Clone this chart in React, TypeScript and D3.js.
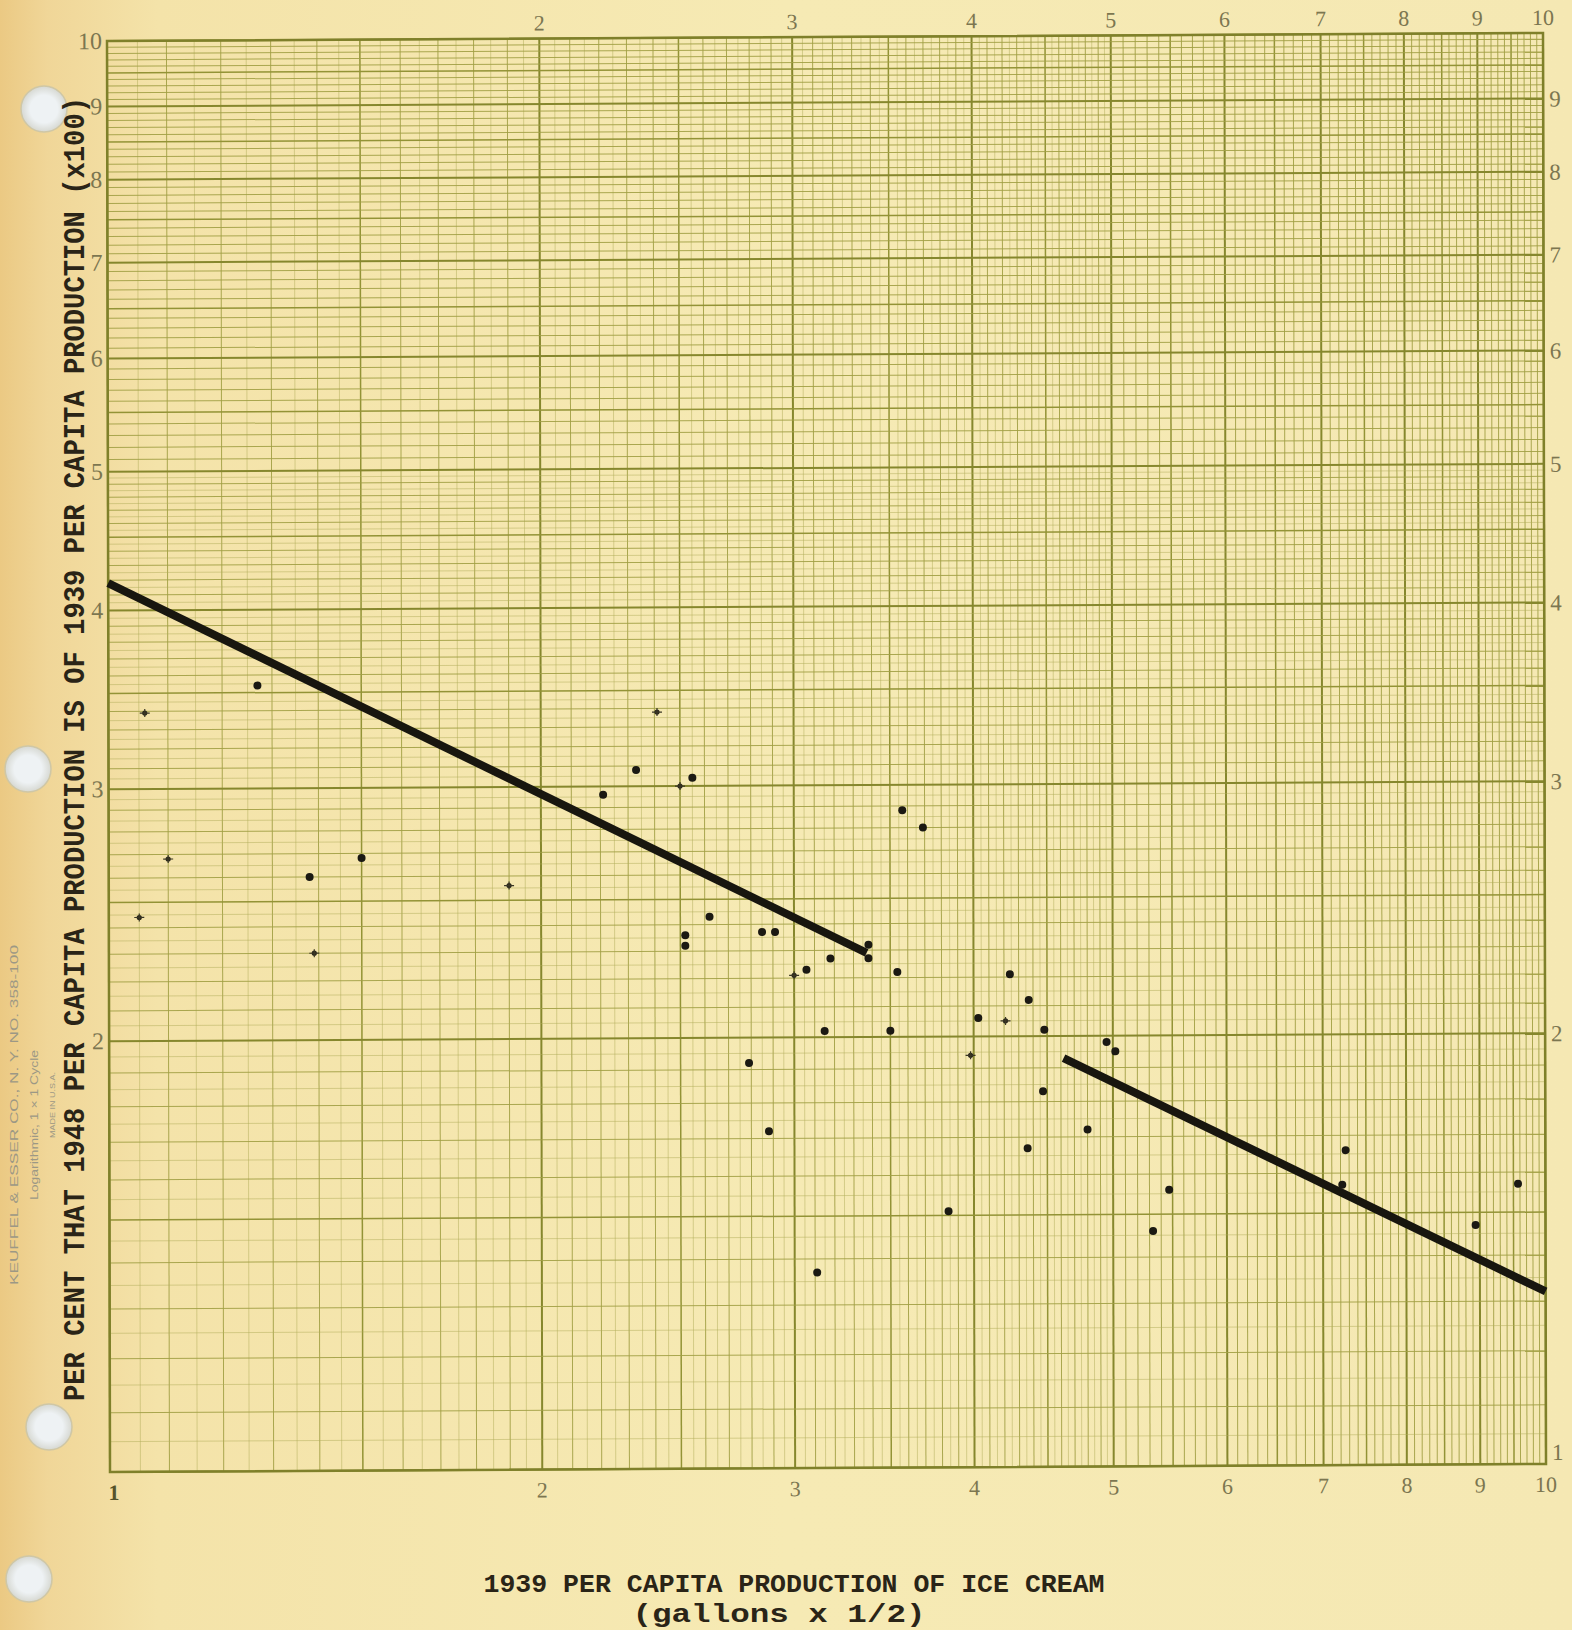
import React, { useEffect, useRef } from "react";
import * as d3 from "d3";

// 1939 per capita production (gallons x 1/2) -> x
// 1948 as per cent of 1939 (x100) -> y
// solid plotted dots
const dotX = [1.27, 1.38, 1.5, 2.21, 2.33, 2.55, 2.62, 2.52, 2.52, 2.85, 2.91, 2.79, 2.88, 3.06, 3.18, 3.15, 3.11, 3.38, 3.38, 3.54, 3.57, 3.69, 3.5, 3.84, 4.03, 4.24, 4.37, 4.48, 4.47, 4.36, 4.8, 4.95, 5.02, 5.47, 5.33, 7.26, 7.22, 8.94, 9.57];
const dotY = [3.54, 2.6, 2.68, 2.96, 3.08, 3.04, 2.43, 2.36, 2.32, 2.37, 2.37, 1.92, 1.72, 2.23, 2.27, 2.02, 1.37, 2.32, 2.27, 2.22, 2.88, 2.8, 2.02, 1.51, 2.06, 2.21, 2.12, 2.02, 1.83, 1.67, 1.72, 1.98, 1.95, 1.56, 1.46, 1.66, 1.57, 1.47, 1.57];

// small pencil crosses
const crossX = [1.06, 1.1, 1.05, 1.39, 1.9, 2.41, 2.5, 3.0, 3.98, 4.21];
const crossY = [3.39, 2.68, 2.44, 2.3, 2.56, 3.38, 3.0, 2.21, 1.94, 2.05];

// the two hand-drawn trend lines
const fitAX = [1, 3.37];
const fitAY = [4.18, 2.29];
const fitBX = [4.62, 10];
const fitBY = [1.93, 1.32];

// printed scale figures on the paper
const topTicks = [2, 3, 4, 5, 6, 7, 8, 9, 10];
const bottomTicks = [1, 2, 3, 4, 5, 6, 7, 8, 9, 10];
const leftTicks = [2, 3, 4, 5, 6, 7, 8, 9, 10];
const rightTicks = [1, 2, 3, 4, 5, 6, 7, 8, 9];

const yTitle = "PER CENT THAT 1948 PER CAPITA PRODUCTION IS OF 1939 PER CAPITA PRODUCTION (x100)";
const xTitle1 = "1939 PER CAPITA PRODUCTION OF ICE CREAM";
const xTitle2 = "(gallons x 1/2)";

const width = 1572;
const height = 1630;
const pw = 1436;
const ph = 1431;

export default function App() {
  const ref = useRef<SVGSVGElement>(null);

  useEffect(() => {
    document.body.style.margin = "0";
    const svg = d3.select(ref.current);
    svg.selectAll("*").remove();

    // paper background, a bit darker toward the binding edge
    const defs = svg.append("defs");
    const grad = defs.append("linearGradient").attr("id", "paper")
      .attr("x1", 0).attr("x2", 1).attr("y1", 0).attr("y2", 0);
    [[0, "#ebc983"], [0.03, "#f0d698"], [0.1, "#f4e3a9"], [0.5, "#f6eab4"], [1, "#f5e8b3"]]
      .forEach(([o, c]) => grad.append("stop").attr("offset", o as number).attr("stop-color", c as string));
    const hole = defs.append("radialGradient").attr("id", "hole");
    hole.append("stop").attr("offset", 0.6).attr("stop-color", "#eef2f4");
    hole.append("stop").attr("offset", 1).attr("stop-color", "#d6d8d2");

    svg.append("rect").attr("width", width).attr("height", height).attr("fill", "url(#paper)");

    // binder holes
    svg.selectAll("circle.hole")
      .data([[44, 109], [28, 769], [49, 1427], [29, 1579]])
      .enter().append("circle")
      .attr("class", "hole")
      .attr("cx", d => d[0]).attr("cy", d => d[1]).attr("r", 23)
      .attr("fill", "url(#hole)").attr("stroke", "#cfc7a6").attr("stroke-width", 1.5);

    const x = d3.scaleLog().domain([1, 10]).range([0, pw]);
    const y = d3.scaleLog().domain([1, 10]).range([ph, 0]);

    // scan is slightly skewed
    const g = svg.append("g").attr("transform", "matrix(1,-0.00557,0.0021,1,107,41)");

    // log rulings: 0.05 below 5, 0.1 above, heavier at halves and integers
    const rulings = d3.range(100, 1001, 5).filter(v => v < 500 || v % 10 === 0);
    const level = (v: number) => (v % 100 === 0 ? 3 : v % 50 === 0 ? 2 : v % 10 === 0 ? 1 : 0);
    const ruleW = [0.7, 1.0, 1.5, 2.0];
    const ruleC = ["#b2ad5a", "#a2a045", "#939336", "#86872d"];
    const ruleO = [0.7, 0.9, 1, 1];

    const grid = g.append("g").attr("class", "grid");
    grid.selectAll("line.v").data(rulings).enter().append("line")
      .attr("x1", v => x(v / 100)).attr("x2", v => x(v / 100))
      .attr("y1", 0).attr("y2", ph)
      .attr("stroke", v => ruleC[level(v)]).attr("stroke-width", v => ruleW[level(v)])
      .attr("opacity", v => ruleO[level(v)]);
    grid.selectAll("line.h").data(rulings).enter().append("line")
      .attr("y1", v => y(v / 100)).attr("y2", v => y(v / 100))
      .attr("x1", 0).attr("x2", pw)
      .attr("stroke", v => ruleC[level(v)]).attr("stroke-width", v => ruleW[level(v)])
      .attr("opacity", v => ruleO[level(v)]);

    g.append("rect").attr("width", pw).attr("height", ph)
      .attr("fill", "none").attr("stroke", "#7f802a").attr("stroke-width", 2.5);

    // scale figures
    const figFont = "'Liberation Serif', 'DejaVu Serif', serif";
    const figColor = "#7c7650";
    g.selectAll("text.top").data(topTicks).enter().append("text")
      .attr("x", d => x(d)).attr("y", -8)
      .attr("text-anchor", "middle").attr("font-family", figFont).attr("font-size", 22)
      .attr("fill", figColor).text(d => d);
    g.selectAll("text.bottom").data(bottomTicks).enter().append("text")
      .attr("x", d => x(d) + (d === 1 ? 4 : 0)).attr("y", ph + 28)
      .attr("text-anchor", "middle").attr("font-family", figFont).attr("font-size", 22)
      .attr("font-weight", d => (d === 1 ? "bold" : "normal"))
      .attr("fill", d => (d === 1 ? "#55532a" : figColor)).text(d => d);
    g.selectAll("text.left").data(leftTicks).enter().append("text")
      .attr("x", -5).attr("y", d => y(d) + 8)
      .attr("text-anchor", "end").attr("font-family", figFont).attr("font-size", 24)
      .attr("fill", figColor).text(d => d);
    g.selectAll("text.right").data(rightTicks).enter().append("text")
      .attr("x", pw + 6).attr("y", d => y(d) + (d === 1 ? -4 : 8))
      .attr("text-anchor", "start").attr("font-family", figFont).attr("font-size", 23)
      .attr("fill", figColor).text(d => d);

    // trend lines
    const line = d3.line<[number, number]>().x(d => x(d[0])).y(d => y(d[1]));
    [[fitAX, fitAY], [fitBX, fitBY]].forEach(([xs, ys]) => {
      g.append("path")
        .attr("d", line(xs.map((v, i) => [v, ys[i]] as [number, number])))
        .attr("fill", "none").attr("stroke", "#18160f").attr("stroke-width", 8);
    });

    // points
    g.selectAll("circle.dot").data(dotX).enter().append("circle")
      .attr("class", "dot")
      .attr("cx", d => x(d)).attr("cy", (d, i) => y(dotY[i])).attr("r", 4)
      .attr("fill", "#1b1913");
    const cr = g.selectAll("g.cross").data(crossX).enter().append("g")
      .attr("transform", (d, i) => `translate(${x(d)},${y(crossY[i])})`);
    cr.append("circle").attr("r", 2.6).attr("fill", "#2a271c");
    cr.append("path").attr("d", "M-5,0H5M0,-4V4").attr("stroke", "#3a3624").attr("stroke-width", 1.2);

    // typed axis titles
    const typeFont = "'Liberation Mono', 'DejaVu Sans Mono', monospace";
    svg.append("text")
      .attr("transform", "translate(76,749) rotate(-90)")
      .attr("text-anchor", "middle").attr("dominant-baseline", "central")
      .attr("font-family", typeFont).attr("font-weight", "bold").attr("font-size", 29)
      .attr("textLength", 1304).attr("lengthAdjust", "spacingAndGlyphs")
      .attr("fill", "#2a2417").text(yTitle);
    svg.append("text")
      .attr("x", 794).attr("y", 1592)
      .attr("text-anchor", "middle").attr("font-family", typeFont).attr("font-weight", "bold")
      .attr("font-size", 26).attr("textLength", 621).attr("lengthAdjust", "spacingAndGlyphs")
      .attr("fill", "#2a2417").text(xTitle1);
    svg.append("text")
      .attr("x", 779).attr("y", 1622)
      .attr("text-anchor", "middle").attr("font-family", typeFont).attr("font-weight", "bold")
      .attr("font-size", 26).attr("textLength", 293).attr("lengthAdjust", "spacingAndGlyphs")
      .attr("fill", "#2a2417").text(xTitle2);

    // maker's imprint along the edge
    const imprint = [
      ["KEUFFEL & ESSER CO., N. Y.     NO. 358-100", 14, 1115, 340, 10],
      ["Logarithmic, 1 \u00d7 1 Cycle", 34, 1125, 150, 10],
      ["MADE IN U.S.A.", 52, 1105, 66, 8],
    ];
    imprint.forEach(([t, cx, cy, len, fs]) => {
      svg.append("text")
        .attr("transform", `translate(${cx},${cy}) rotate(-90)`)
        .attr("text-anchor", "middle").attr("dominant-baseline", "central")
        .attr("font-family", "'Liberation Sans', sans-serif").attr("font-size", fs as number)
        .attr("textLength", len as number).attr("lengthAdjust", "spacingAndGlyphs")
        .attr("fill", "#9c9885").text(t as string);
    });
  }, []);

  return (
    <svg ref={ref} width={width} height={height}
      style={{ position: "absolute", left: 0, top: 0, display: "block" }} />
  );
}
